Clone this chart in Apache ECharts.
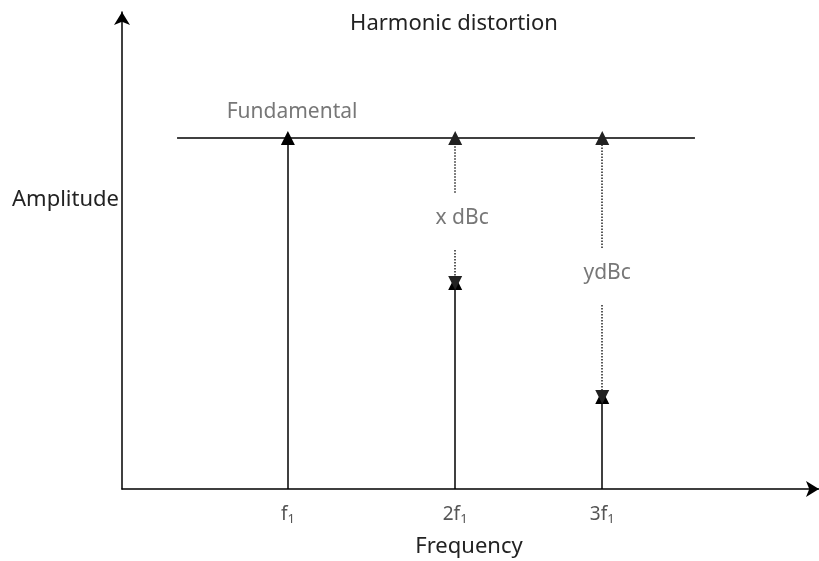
<!DOCTYPE html>
<html>
<head>
<meta charset="utf-8">
<script src="https://cdn.jsdelivr.net/npm/echarts@6/dist/echarts.min.js"></script>
<style>
  html, body { margin: 0; padding: 0; background: #fff; }
  #chart { width: 819px; height: 561px; }
</style>
</head>
<body>
<div id="chart"></div>
<script>
// Positions des harmoniques (axe x 0..10) et niveaux (axe y 0..10)
const freqTicks = [2.38, 4.78, 6.89];
const freqLabels = ['{t|f}{s|1}', '{t|2f}{s|1}', '{t|3f}{s|1}'];
const fundamentalLevel = 7.36;
const fundamentalSpan = [0.79, 8.22];
const harmonicLevels = [7.36, 4.32, 1.93];

// Flèches pointillées (début -> fin), mesure en dBc
const dottedArrows = [
  [[4.78, 6.21], [4.78, 7.36]],
  [[4.78, 5.01], [4.78, 4.32]],
  [[6.89, 5.05], [6.89, 7.36]],
  [[6.89, 3.86], [6.89, 1.93]]
];

// Etiquettes dans le graphique
const notes = [
  { name: 'Fundamental', value: [2.44, 7.90] },
  { name: 'x dBc', value: [4.88, 5.68] },
  { name: 'ydBc', value: [6.96, 4.53] }
];

const chart = echarts.init(document.getElementById('chart'));
const font = '"Noto Sans", "Open Sans", sans-serif';
const darkText = { fontFamily: font, fontSize: 22, fontWeight: 'normal', color: '#222' };

chart.setOption({
  backgroundColor: '#fff',
  animation: false,
  title: [
    { text: 'Harmonic distortion', left: 449, top: 8, textAlign: 'center', textStyle: darkText },
    { text: 'Frequency', left: 464, top: 531, textAlign: 'center', textStyle: darkText },
    { text: 'Amplitude', left: 7, top: 184, textStyle: darkText }
  ],
  grid: { left: 122, right: 0, top: 12, bottom: 72 },
  xAxis: {
    type: 'value', min: 0, max: 10,
    splitLine: { show: false },
    axisTick: { show: false },
    axisLine: { lineStyle: { color: '#000', width: 1.5 }, symbol: ['none', 'arrow'], symbolSize: [12, 13] },
    axisLabel: {
      customValues: freqTicks,
      formatter: (v) => freqLabels[freqTicks.indexOf(v)] || '',
      margin: 15,
      rich: {
        t: { fontFamily: font, fontSize: 19, color: '#555' },
        s: { fontFamily: font, fontSize: 13, color: '#555', padding: [9, 0, 0, 0] }
      }
    }
  },
  yAxis: {
    type: 'value', min: 0, max: 10,
    splitLine: { show: false },
    axisTick: { show: false },
    axisLabel: { show: false },
    axisLine: { lineStyle: { color: '#000', width: 1.5 }, symbol: ['none', 'arrow'], symbolSize: [12, 13] }
  },
  series: [
    {
      // ligne du fondamental
      type: 'lines', coordinateSystem: 'cartesian2d', silent: true,
      symbol: 'none',
      lineStyle: { color: '#000', width: 1.5, opacity: 1, curveness: 0 },
      data: [{ coords: [[fundamentalSpan[0], fundamentalLevel], [fundamentalSpan[1], fundamentalLevel]] }]
    },
    {
      // raies pleines
      type: 'lines', coordinateSystem: 'cartesian2d', silent: true,
      symbol: ['none', 'triangle'], symbolSize: [13, 14],
      lineStyle: { color: '#000', width: 1.5, opacity: 1 },
      data: freqTicks.map((x, i) => ({ coords: [[x, 0], [x, harmonicLevels[i]]] }))
    },
    {
      // flèches pointillées
      type: 'lines', coordinateSystem: 'cartesian2d', silent: true,
      symbol: ['none', 'triangle'], symbolSize: [13, 14],
      lineStyle: { color: '#222', width: 1.5, type: 'dotted', opacity: 1 },
      data: dottedArrows.map(c => ({ coords: c }))
    },
    {
      type: 'scatter', silent: true, symbolSize: 0,
      label: {
        show: true, position: 'inside', formatter: '{b}',
        fontFamily: font, fontSize: 21, color: '#555'
      },
      data: notes
    }
  ]
});
</script>
</body>
</html>
